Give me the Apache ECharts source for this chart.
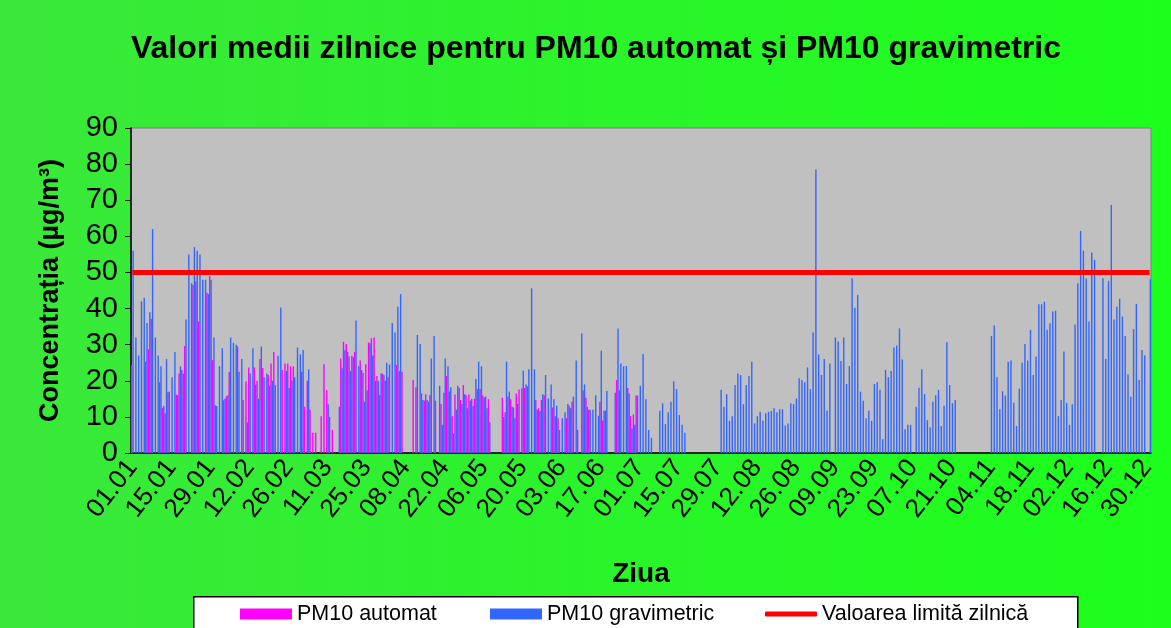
<!DOCTYPE html>
<html>
<head>
<meta charset="utf-8">
<script src="https://cdn.jsdelivr.net/npm/echarts@6/dist/echarts.min.js"></script>
<style>
html,body{margin:0;padding:0;}
#chart{width:1171px;height:628px;background:linear-gradient(to right,#3ae83a,#1cff1c);}
</style>
</head>
<body>
<div id="chart"></div>
<script>
const n = null;
// Leap year: day labels DD.MM
const monthDays = [31,29,31,30,31,30,31,31,30,31,30,31];
const days = [];
monthDays.forEach((len, m) => {
  for (let d = 1; d <= len; d++) days.push(String(d).padStart(2,'0') + '.' + String(m + 1).padStart(2,'0'));
});

const gravimetric = [
  56, 32, 27, 42, 43, 36, 39, 62, 32, 27,
  24, 13, 26, 17, 21, 28, 16, 24, 22, 37,
  55, 47, 57, 56, 55, 48, 48, 44, 48, 32,
  13, 24, 29, 15, 16, 32, 30.5, 30, 22.5, 26,
  n, 8.5, 22, 29, 19, 15, 29.5, 21, 22, 18.6,
  20, 18.8, 26.9, 40.3, n, 22.7, 18, 20, 21, 29.2,
  27.3, 28.5, n, 23.2, n, n, n, n, n, n,
  13.5, n, n, n, 12.8, 23.5, 28.5, 28, 22.7, 26.5,
  36.7, 24, 23, 14.2, 17.4, 30.4, 27, 20, 20, 22,
  21.6, 25, 24.5, 36, 33.4, 40.5, 44, n, n, n,
  n, n, 32.7, 30.2, 14.7, 16.3, 14.2, 26.2, 32.4, n,
  18.6, 7.8, 26.2, 24, 18.2, 5.4, 12, 18, 13.6, 16.3,
  12.4, 14.5, 13, 20.5, 25.3, 24, 15.4, 12.4, 8.5, n,
  n, n, n, 10, 25.3, 17, 12.8, 9.6, 13.6, n,
  22.8, 19, 23.2, 45.6, 23.2, 12, 11.6, 16.3, 21.6, 15.1,
  19, 14.9, 13.1, 6.4, 9.6, 11.3, 13.6, 12.4, 15.6, 25.6,
  n, 33.1, 19, 12.8, 12, 12, 16, 10.3, 28.3, 11.7,
  17.2, n, n, 16.7, 34.5, 24.8, 24, 24.1, 16.5, 6.8,
  7.8, 15.9, 18.6, 27.4, 14.9, 6.4, 4.2, n, n, 11.7,
  13.8, 8, 11.3, 14.2, 19.9, 17.7, 10.5, 7.8, 5.6, n,
  n, n, n, n, n, n, n, n, n, n,
  n, 17.5, 12.8, 16.3, 8.9, 10.2, 18.8, 22, 21.6, 13.5,
  18.8, 21.3, 25.3, 8.2, 10.2, 11.4, 8.9, 11, 11.4, 11.6,
  12.4, 11.3, 12.1, 12.1, 7.6, 8.2, 13.8, 13.5, 15.1, 20.7,
  20.2, 19.6, 23.7, 17.7, 33.4, 78.5, 27.3, 21.6, 26, 11.7,
  24.8, n, 32, 30.9, 25.5, 32, 19.1, 24.1, 48.4, 40.2,
  43.8, 17, 14.5, 9.6, 11.7, 8.9, 19.1, 19.6, 17.5, 3.8,
  23, 21, 22.7, 29.2, 29.8, 34.5, 25.9, 6.6, 7.8, 7.8,
  n, 12.8, 18.1, 23.2, 16.3, 9.1, 7.1, 14.2, 16, 17.5,
  7.5, 13.1, 30.7, 18.8, 13.8, 14.7, n, n, n, n,
  n, n, n, n, n, n, n, n, 32.4, 35.3,
  21, 12.1, 17.1, 15.9, 25.3, 25.6, 13.9, 7.5, 17.8, 25,
  30.2, 25.6, 34.1, 21.6, 26.7, 41.2, 41.2, 41.9, 34.1, 35.9,
  39.2, 39.4, 10.2, 14.7, 28.1, 13.9, 7.8, 13.5, 35.6, 47,
  61.5, 56, 48.3, 36.4, 55.5, 53.5, n, n, 48.4, 26,
  47.7, 68.7, 37, 40.5, 42.7, 37.8, 32.4, 21.8, 15.6, 34.3,
  41.3, 20.2, 28.5, 27.1, n, 48.1
];

const automat = [
  24.4, n, n, n, n, 25.3, 28.7, 37.2, n, n,
  19.6, 12.5, 11, 16.8, n, n, 16.2, 22, 23, 29.6,
  n, n, 46.5, 47.5, 36.4, n, n, 44.4, 49, 25.7,
  13.2, n, n, 14.6, 15.7, 22.4, n, n, 29.5, n,
  14.7, 19.8, 23.7, n, 23.7, 20, 26, 23.5, n, 21.6,
  24.8, 28, n, n, 23, 24.8, 24.8, 24, 24, n,
  n, 22.5, 12.8, 20, 12, 5.6, 5.6, n, 10.2, 24.6,
  17.4, 10, 6.4, n, n, 26.2, 30.8, 30.2, 26.7, 26.9,
  28, n, 25.6, 22.2, 24.6, 30.6, 31.8, 32, 21.3, 16,
  22, 20, 21, n, n, 24.4, 22.7, 22.5, n, n,
  n, 20.2, 18.2, n, 16.5, 14.5, 14.7, 16, n, 14.5,
  n, 13.6, 16.7, 21.3, 17, 10.2, 16.2, 18.6, 14.7, 18.8,
  16, 16.2, 15, 15, 17.7, 17.7, 15.9, 15.6, 14.9, n,
  n, n, n, 15.3, 11.3, 15.6, 14.9, 12.6, 16.5, 17.6,
  17.9, 18, 18.5, n, n, 14.7, 12.4, 14.7, 16, n,
  n, 12.6, 10.2, 9.6, n, n, 9.6, 13.1, 14.2, n,
  6.4, n, 17.4, 15.3, 12, n, n, n, 14.2, 9,
  11.7, n, n, n, 20.2, 17.4, n, n, 18, 10.2,
  10.7, 15.9
];

const limitValue = 50;
const limitLine = days.map(() => limitValue);
const yTicks = { min: 0, max: 90, step: 10 };

const chart = echarts.init(document.getElementById('chart'));
const font = 'Liberation Sans, Arial, sans-serif';
chart.setOption({
  animation: false,
  backgroundColor: 'transparent',
  textStyle: { fontFamily: font },
  graphic: [{
    type: 'rect', left: 193, top: 596, z: -1,
    shape: { width: 884, height: 40 },
    style: { fill: '#fff', stroke: '#000', lineWidth: 1.5 }
  }, {
    type: 'text', x: 596, y: 49,
    style: {
      text: 'Valori medii zilnice pentru PM10 automat și PM10 gravimetric',
      fill: '#000', font: 'bold 32px Liberation Sans, Arial, sans-serif',
      textAlign: 'center', textVerticalAlign: 'middle'
    }
  }],
  legend: [
    { data: ['PM10 automat'], left: 240, top: 603, padding: 0, itemWidth: 52, itemHeight: 11, icon: 'rect', selectedMode: false, textStyle: { fontSize: 21.5, color: '#000', fontFamily: font } },
    { data: ['PM10 gravimetric'], left: 490, top: 603, padding: 0, itemWidth: 52, itemHeight: 11, icon: 'rect', selectedMode: false, textStyle: { fontSize: 21.5, color: '#000', fontFamily: font } },
    { data: ['Valoarea limită zilnică'], left: 765, top: 603, padding: 0, itemWidth: 52, itemHeight: 5, icon: 'roundRect', selectedMode: false, textStyle: { fontSize: 21.5, color: '#000', fontFamily: font } }
  ],
  grid: { left: 131, right: 20, top: 128, bottom: 175, show: true, backgroundColor: '#c0c0c0', borderColor: '#808080', borderWidth: 1 },
  xAxis: {
    type: 'category', data: days, boundaryGap: true,
    axisLine: { lineStyle: { color: '#000', width: 1.5 } },
    axisTick: { show: false },
    axisLabel: { interval: 13, rotate: 52, fontSize: 26, color: '#000', margin: 10, fontFamily: font },
    name: 'Ziua', nameLocation: 'middle', nameGap: 107,
    nameTextStyle: { fontSize: 28, fontWeight: 'bold', color: '#000', fontFamily: font }
  },
  yAxis: {
    type: 'value', min: yTicks.min, max: yTicks.max, interval: yTicks.step,
    axisLine: { show: true, lineStyle: { color: '#000', width: 1.5 } },
    axisTick: { show: true, length: 6, lineStyle: { color: '#000' } },
    splitLine: { show: false },
    axisLabel: { fontSize: 29, color: '#000', margin: 13, fontFamily: font },
    name: 'Concentrația (µg/m³)', nameLocation: 'middle', nameGap: 67,
    nameTextStyle: { fontSize: 27, fontWeight: 'bold', color: '#000', fontFamily: font }
  },
  series: [
    { name: 'PM10 automat', type: 'bar', data: automat, barWidth: 1.4, barGap: '0%', itemStyle: { color: '#ff00ff' } },
    { name: 'PM10 gravimetric', type: 'bar', data: gravimetric, barWidth: 1.4, barGap: '0%', itemStyle: { color: '#3366ff' } },
    { name: 'Valoarea limită zilnică', type: 'line', data: limitLine, symbol: 'none', z: 5,
      lineStyle: { color: '#ff0000', width: 5 }, itemStyle: { color: '#ff0000' } }
  ]
});
</script>
</body>
</html>
